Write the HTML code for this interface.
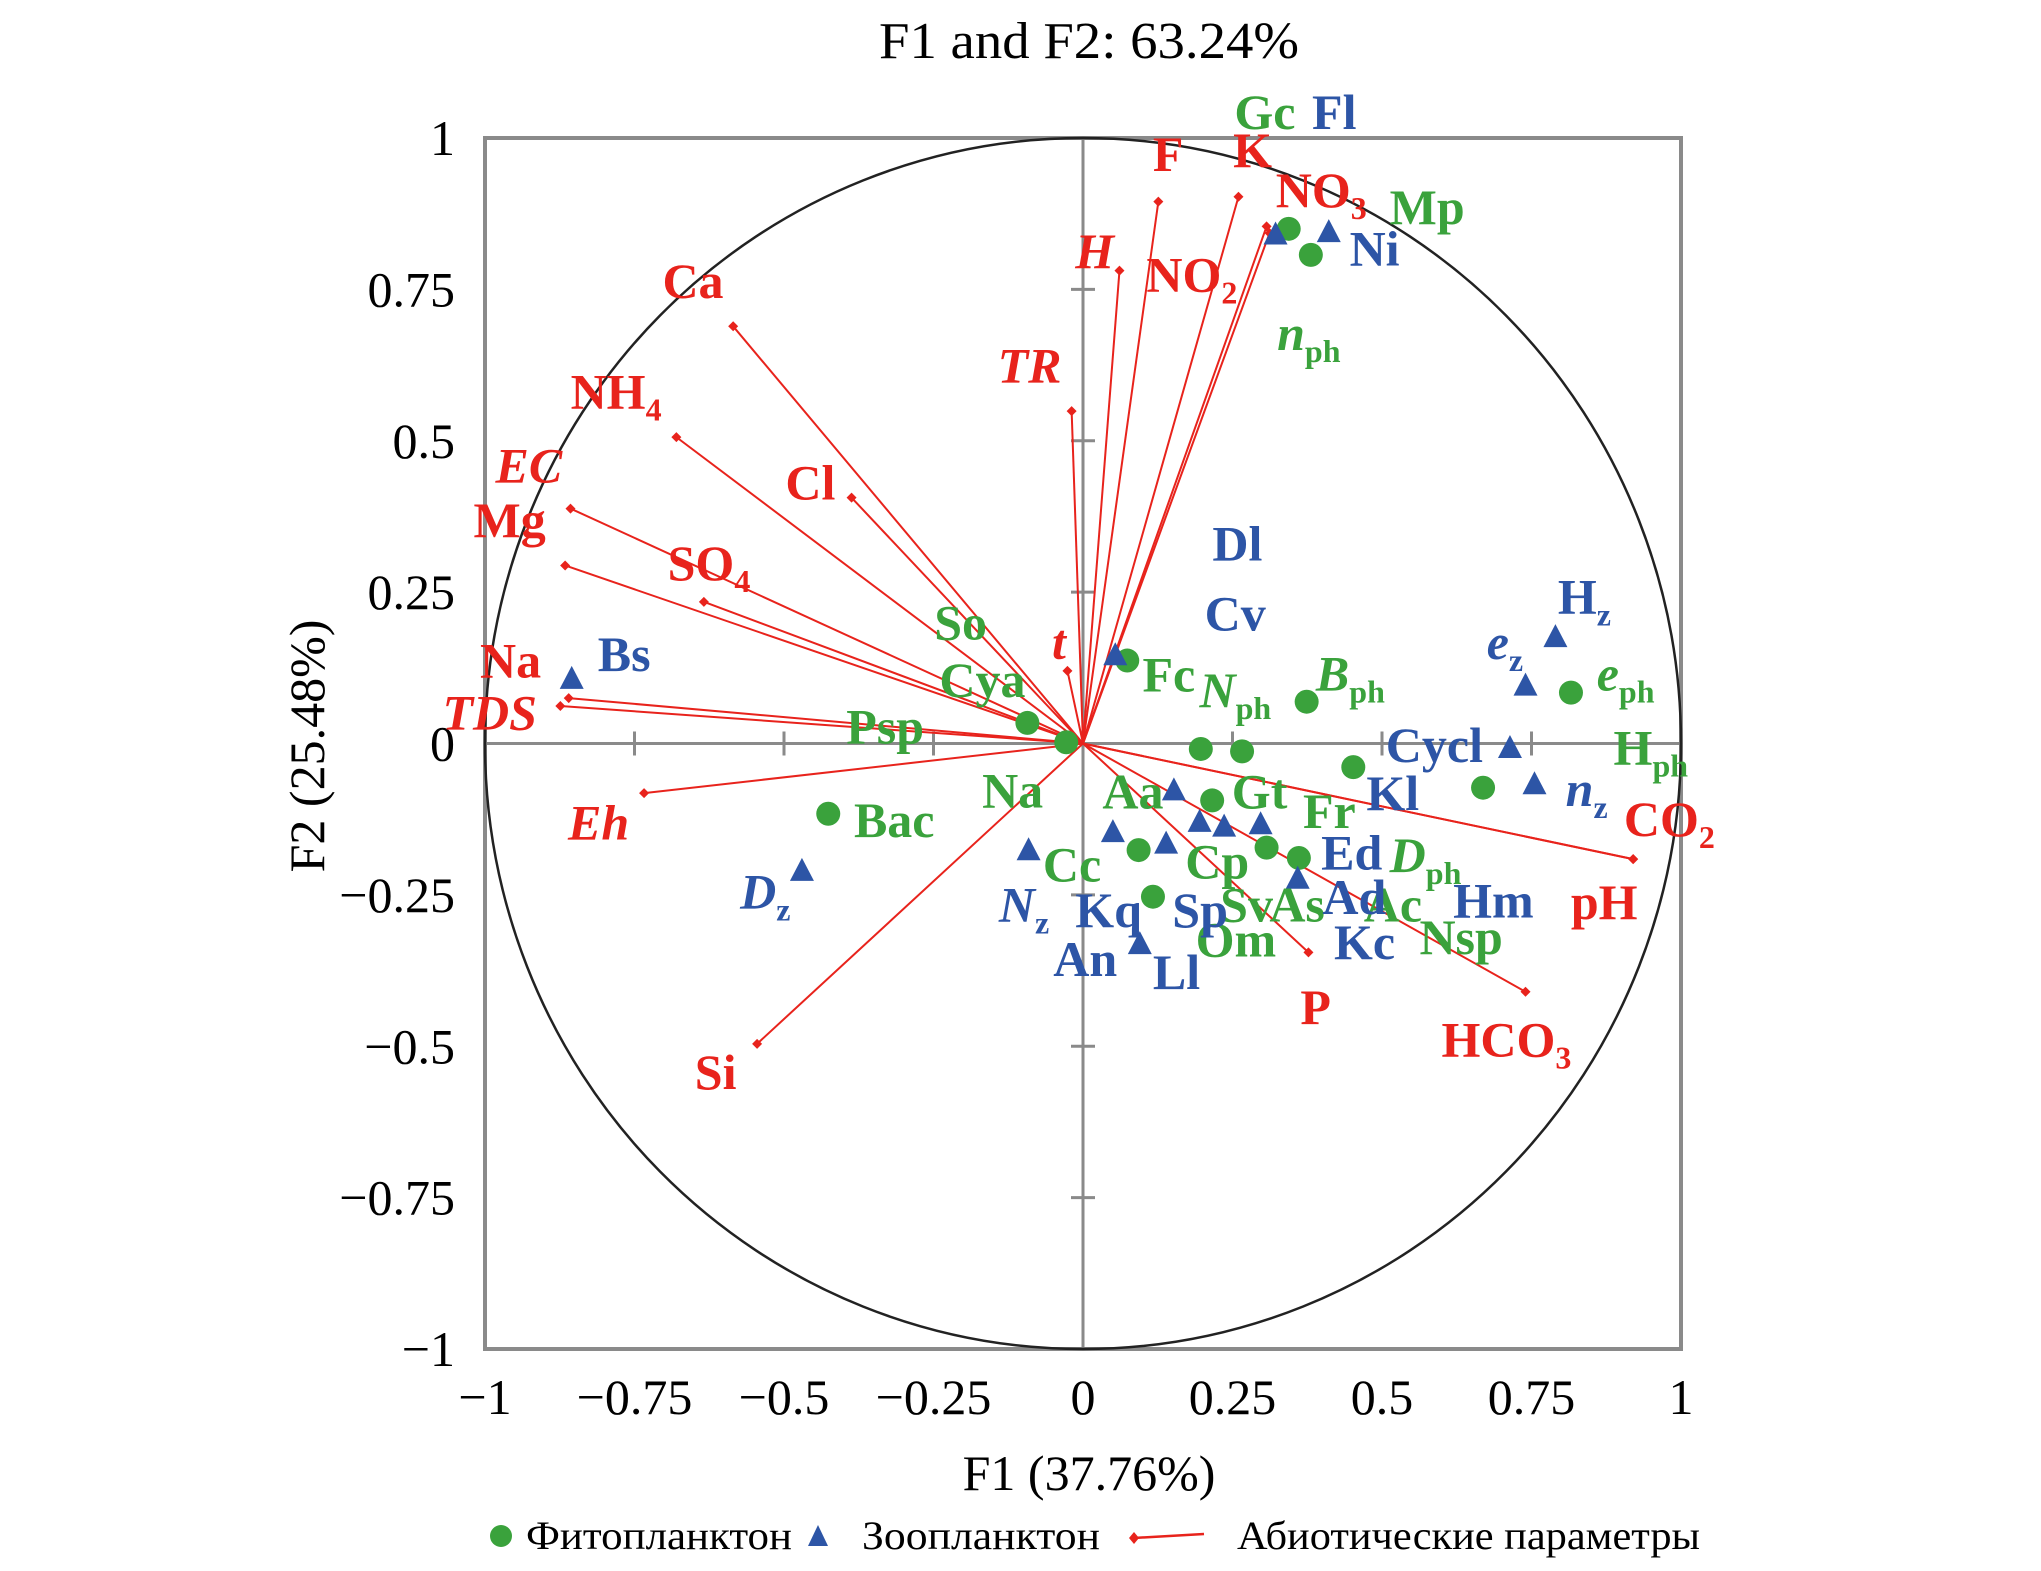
<!DOCTYPE html>
<html><head><meta charset="utf-8">
<style>
html,body{margin:0;padding:0;background:#fff;}
svg{display:block;font-family:"Liberation Serif","DejaVu Serif",serif;}
.lb{font-weight:bold;font-size:50px;}
.it{font-style:italic;}
.tick{font-size:50px;fill:#000;}
</style></head>
<body>
<svg id="chart" width="2041" height="1571" viewBox="0 0 2041 1571" xmlns="http://www.w3.org/2000/svg">
<text x="1089" y="58" text-anchor="middle" font-size="52" textLength="420" lengthAdjust="spacingAndGlyphs">F1 and F2: 63.24%</text>
<g id="plot"></g>
<text x="1089" y="1490" text-anchor="middle" font-size="50">F1 (37.76%)</text>
<text transform="translate(324,746) rotate(-90)" text-anchor="middle" font-size="50">F2 (25.48%)</text>
<g font-size="40">
  <circle cx="501" cy="1536" r="11" fill="#3aa23c"/>
  <text x="526" y="1549" textLength="266" lengthAdjust="spacingAndGlyphs">Фитопланктон</text>
  <polygon points="818,1525 808,1546 828,1546" fill="#2d55a6"/>
  <text x="862" y="1549" textLength="238" lengthAdjust="spacingAndGlyphs">Зоопланктон</text>
  <line x1="1134" y1="1538" x2="1204" y2="1534" stroke="#e8231c" stroke-width="2.5"/>
  <polygon points="1134,1532 1139,1538 1134,1544 1129,1538" fill="#e8231c"/>
  <text x="1237" y="1549" textLength="463" lengthAdjust="spacingAndGlyphs">Абиотические параметры</text>
</g>
</svg>
<script>
// ---- data ----
const xTicks = [-1,-0.75,-0.5,-0.25,0,0.25,0.5,0.75,1];
const yTicks = [-1,-0.75,-0.5,-0.25,0,0.25,0.5,0.75,1];
const xTickLabels = ["\u22121","\u22120.75","\u22120.5","\u22120.25","0","0.25","0.5","0.75","1"];
const yTickLabels = ["\u22121","\u22120.75","\u22120.5","\u22120.25","0","0.25","0.5","0.75","1"];
// abiotic vectors
const vecNames = ["Ca","NH4","EC","Mg","SO4","Cl","Na","TDS","Eh","Si","t","TR","H","F","K","NO3","NO2","CO2","pH","HCO3","P"];
const vecX = [-0.585,-0.68,-0.857,-0.866,-0.634,-0.387,-0.86,-0.874,-0.734,-0.545,-0.026,-0.019,0.061,0.126,0.26,0.307,0.312,0.92,0.92,0.74,0.377];
const vecY = [0.689,0.506,0.388,0.294,0.234,0.406,0.075,0.062,-0.082,-0.496,0.12,0.549,0.781,0.895,0.903,0.854,0.843,-0.191,-0.191,-0.41,-0.345];
// phytoplankton points
const phytoX = [0.344,0.381,0.074,0.374,0.816,-0.093,-0.028,0.197,0.266,0.452,0.669,-0.426,0.216,0.093,0.307,0.361,0.117];
const phytoY = [0.85,0.807,0.137,0.069,0.084,0.034,0.002,-0.009,-0.013,-0.039,-0.073,-0.116,-0.094,-0.176,-0.172,-0.189,-0.253];
// zooplankton points
const zooX = [0.322,0.411,0.79,0.74,0.054,0.714,0.755,-0.855,-0.47,0.152,0.05,0.139,0.195,0.236,0.297,-0.091,0.359,0.095];
const zooY = [0.839,0.843,0.174,0.094,0.144,-0.009,-0.069,0.105,-0.212,-0.079,-0.148,-0.167,-0.131,-0.139,-0.135,-0.178,-0.225,-0.333];

const X0=485, X1=1681, Y0=138, Y1=1349;
const sx = v => X0 + (v+1)/2*(X1-X0);
const sy = v => Y1 - (v+1)/2*(Y1-Y0);
const NS="http://www.w3.org/2000/svg";
const plot=document.getElementById('plot');
function mk(tag,attrs,parent){const e=document.createElementNS(NS,tag);for(const k in attrs)e.setAttribute(k,attrs[k]);(parent||plot).appendChild(e);return e;}

let e=mk('rect',{x:X0,y:Y0,width:X1-X0,height:Y1-Y0,fill:'none',stroke:'#8a8a8a','stroke-width':4});


e=mk('line',{x1:X0,x2:X1,y1:sy(0),y2:sy(0),stroke:'#8a8a8a','stroke-width':3});


e=mk('line',{x1:sx(0),x2:sx(0),y1:Y0,y2:Y1,stroke:'#8a8a8a','stroke-width':3});


xTicks.forEach((t,i)=>{
  if(t>-1&&t<1&&t!==0){
    e=mk('line',{x1:sx(t),x2:sx(t),y1:sy(0)-12,y2:sy(0)+12,stroke:'#8a8a8a','stroke-width':3});
    
    
  }
  e=mk('text',{x:sx(t),y:1414,'text-anchor':'middle',class:'tick'});
  e.textContent=xTickLabels[i];
  
  
});
yTicks.forEach((t,i)=>{
  if(t>-1&&t<1&&t!==0){
    e=mk('line',{x1:sx(0)-12,x2:sx(0)+12,y1:sy(t),y2:sy(t),stroke:'#8a8a8a','stroke-width':3});
    
    
  }
  e=mk('text',{x:455,y:sy(t)+17,'text-anchor':'end',class:'tick'});
  e.textContent=yTickLabels[i];
  
  
});
e=mk('ellipse',{cx:sx(0),cy:sy(0),rx:(X1-X0)/2,ry:(Y1-Y0)/2,fill:'none',stroke:'#222','stroke-width':2.5});



const RED='#e8231c', GREEN='#3aa23c', BLUE='#2d55a6';
vecX.forEach((vx,i)=>{
  const x=sx(vx), y=sy(vecY[i]);
  e=mk('line',{x1:sx(0),y1:sy(0),x2:x,y2:y,stroke:RED,'stroke-width':2});
  
  
  e=mk('polygon',{points:`${x},${y-5} ${x+5},${y} ${x},${y+5} ${x-5},${y}`,fill:RED});
  
  
});
phytoX.forEach((px,i)=>{
  e=mk('circle',{cx:sx(px),cy:sy(phytoY[i]),r:12,fill:GREEN});
  
  
});
zooX.forEach((zx,i)=>{
  const x=sx(zx), y=sy(zooY[i]);
  e=mk('polygon',{points:`${x},${y-14} ${x-12},${y+9} ${x+12},${y+9}`,fill:BLUE});
  
  
});

const labels=[
["F","", "r",0,882,115],["K","","r",0,944,112],["NO","3","r",0,977,143],["H","","r",1,822,190],["NO","2","r",0,877,208],
["Ca","","r",0,503,213],["TR","","r",1,762,278],["NH","4","r",0,432,298],["EC","","r",1,374,355],["Cl","","r",0,598,368],
["Mg","","r",0,357,397],["SO","4","r",0,507,430],["t","","r",1,804,491],["Na","","r",0,362,505],["TDS","","r",1,333,545],
["Eh","","r",1,430,630],["CO","2","r",0,1246,627],["pH","","r",0,1205,691],["P","","r",0,996,772],["HCO","3","r",0,1105,797],["Si","","r",0,528,822],
["Gc","","g",0,945,83],["Mp","","g",0,1065,156],["n","ph","g",1,978,253],["So","","g",0,713,476],["Cya","","g",0,717,520],
["Fc","","g",0,874,516],["N","ph","g",1,918,528],["B","ph","g",1,1008,515],["e","ph","g",1,1225,515],["H","ph","g",0,1238,572],
["Psp","","g",0,645,556],["Na","","g",0,750,605],["Aa","","g",0,843,606],["Gt","","g",0,943,606],["Fr","","g",0,998,621],
["Bac","","g",0,651,628],["Cc","","g",0,797,662],["Cp","","g",0,907,660],["D","ph","g",1,1065,655],["Sv","","g",0,934,693],
["As","","g",0,972,693],["Ac","","g",0,1045,693],["Om","","g",0,915,720],["Nsp","","g",0,1088,718],
["Fl","","b",0,1005,83],["Ni","","b",0,1034,188],["Dl","","b",0,928,415],["Cv","","b",0,922,469],["H","z","b",0,1195,456],
["e","z","b",1,1140,491],["Bs","","b",0,453,500],["Cycl","","b",0,1062,570],["Kl","","b",0,1047,607],["n","z","b",1,1201,604],
["Ed","","b",0,1012,653],["Ad","","b",0,1013,687],["Hm","","b",0,1114,690],["D","z","b",1,563,683],["N","z","b",1,763,693],
["Kq","","b",0,822,697],["Sp","","b",0,897,697],["Kc","","b",0,1022,722],["An","","b",0,805,735],["Ll","","b",0,882,745]
];
const cmap={r:RED,g:GREEN,b:BLUE};
labels.forEach(l=>{
  const X=1083+(l[4]-828)*1.294, Y=743.5+(l[5]-569)*1.299+17;
  const t=mk('text',{x:X,y:Y,fill:cmap[l[2]],class:'lb'+(l[3]?' it':'')});
  
  
  const a=document.createElementNS(NS,'tspan');a.textContent=l[0];t.appendChild(a);
  if(l[1]){const s=document.createElementNS(NS,'tspan');s.setAttribute('dy','12');s.setAttribute('font-size','32');s.setAttribute('font-style','normal');s.textContent=l[1];t.appendChild(s);}
});
</script>
</body></html>
